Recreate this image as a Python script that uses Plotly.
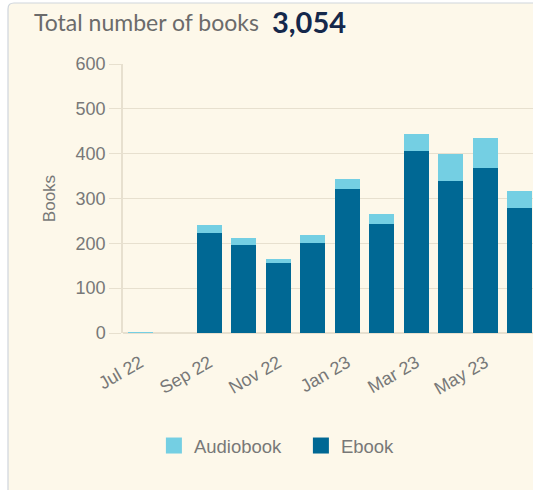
import plotly.graph_objects as go

months = ["Jul 22", "Aug 22", "Sep 22", "Oct 22", "Nov 22", "Dec 22",
          "Jan 23", "Feb 23", "Mar 23", "Apr 23", "May 23", "Jun 23"]
ebook = [1, 0, 223, 197, 156, 201, 321, 244, 407, 340, 367, 278]
audiobook = [1, 0, 19, 16, 8, 18, 22, 21, 36, 59, 69, 38]
tick_labels = ["Jul 22", "Sep 22", "Nov 22", "Jan 23", "Mar 23", "May 23"]
y_ticks = [0, 100, 200, 300, 400, 500, 600]
total_books = "3,054"

EBOOK_C = "#006894"
AUDIO_C = "#74cfe3"
BG = "#fdf8ea"
GRID = "#e7e0cf"
TXT = "#787878"

W, H = 533, 490
L, R, T, B = 123, 0, 64, 157
pw, ph = W - L - R, H - T - B

def px(x):
    return (x - L) / pw

def py(y):
    return (H - B - y) / ph

fig = go.Figure()
fig.add_trace(go.Bar(x=months, y=ebook, name="Ebook", marker_color=EBOOK_C,
                     marker_line_width=0, showlegend=False))
fig.add_trace(go.Bar(x=months, y=audiobook, name="Audiobook", marker_color=AUDIO_C,
                     marker_line_width=0, showlegend=False))
# legend entries
fig.add_trace(go.Scatter(x=[None], y=[None], mode="markers", name="Audiobook",
                         marker=dict(symbol="square", size=17, color=AUDIO_C)))
fig.add_trace(go.Scatter(x=[None], y=[None], mode="markers", name="Ebook",
                         marker=dict(symbol="square", size=17, color=EBOOK_C)))

# card background with border
x0, x1 = px(8), px(W + 20)
y0, y1 = py(H + 20), py(3)
r = 6
fig.add_shape(type="path", xref="paper", yref="paper", layer="below",
              path=(f"M {x0} {y0} L {x0} {py(3 + r)} "
                    f"Q {x0} {y1} {px(8 + r)} {y1} L {x1} {y1} L {x1} {y0} Z"),
              fillcolor=BG, line=dict(color="#cfd5dc", width=1.2))

fig.add_annotation(xref="paper", yref="paper", x=px(32), y=py(22), xanchor="left",
                   yanchor="middle", showarrow=False,
                   text="Total number of books",
                   font=dict(family="Lato", size=23, color="#6b6b6b"))
fig.add_annotation(xref="paper", yref="paper", x=px(270), y=py(21), xanchor="left",
                   yanchor="middle", showarrow=False,
                   text=f"<b>{total_books}</b>",
                   font=dict(family="Lato", size=29, color="#15284b"))

fig.update_layout(
    width=W, height=H,
    margin=dict(l=L, r=R, t=T, b=B, pad=0),
    barmode="stack", bargap=0.275,
    paper_bgcolor="white", plot_bgcolor="rgba(0,0,0,0)",
    font=dict(family="Liberation Sans, Arial", color=TXT),
    legend=dict(orientation="h", x=px(158) - 0.01, xanchor="left", y=py(446),
                yanchor="middle",
                font=dict(size=18.5, color=TXT), itemwidth=30, entrywidth=102,
                bgcolor="rgba(0,0,0,0)", traceorder="normal"),
    xaxis=dict(type="category", categoryorder="array", categoryarray=months,
               range=[-0.5, -0.5 + pw / 34.5],
               tickmode="array", tickvals=tick_labels, ticktext=tick_labels,
               tickangle=-30, tickfont=dict(size=18, color=TXT),
               ticklabelstandoff=15,
               showgrid=False, showline=False, ticks="", zeroline=False),
    yaxis=dict(range=[0, 600], tickvals=y_ticks, tickfont=dict(size=18, color=TXT),
               showgrid=True, gridcolor=GRID, gridwidth=1,
               showline=True, linecolor=GRID, linewidth=1.5,
               ticks="outside", ticklen=12, tickcolor=GRID,
               zeroline=True, zerolinecolor=GRID, zerolinewidth=1.5,
               title=dict(text="Books", font=dict(size=17, color=TXT), standoff=16)),
)

fig.write_html("out.html", config={"displayModeBar": False},
               post_script="document.body.style.margin='0';document.body.style.overflow='hidden';")
